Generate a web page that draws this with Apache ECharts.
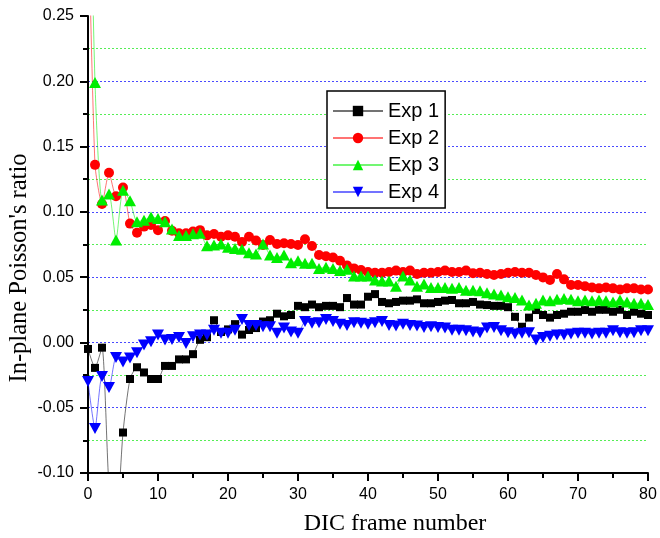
<!DOCTYPE html>
<html>
<head>
<meta charset="utf-8">
<script src="https://cdn.jsdelivr.net/npm/echarts@6/dist/echarts.min.js"></script>
<style>
body { margin: 0; background: #fff; }
#chart { width: 660px; height: 538px; }
</style>
</head>
<body>
<div id="chart"></div>
<script>
// frames 0..80
var frames = [];
for (var i = 0; i <= 80; i++) frames.push(i);

var seriesNames = ['Exp 1', 'Exp 2', 'Exp 3', 'Exp 4'];

var exp1 = [-0.005, -0.0195, -0.004, -0.11, -0.14, -0.069, -0.028, -0.019, -0.023, -0.028,
    -0.028, -0.018, -0.018, -0.013, -0.013, -0.009, 0.002, 0.004, 0.017, 0.008,
    0.010, 0.014, 0.006, 0.0095, 0.011, 0.016, 0.017, 0.022, 0.020, 0.021,
    0.028, 0.027, 0.029, 0.027, 0.028, 0.028, 0.027, 0.034, 0.029, 0.029,
    0.035, 0.037, 0.031, 0.030, 0.031, 0.032, 0.032, 0.033, 0.030, 0.030,
    0.031, 0.032, 0.0325, 0.030, 0.030, 0.031, 0.029, 0.0286, 0.028, 0.028,
    0.027, 0.0196, 0.012, 0.019, 0.0248, 0.021, 0.019, 0.021, 0.022, 0.0235,
    0.0235, 0.0248, 0.0235, 0.025, 0.025, 0.0235, 0.025, 0.021, 0.0235, 0.022,
    0.021];

var exp2 = [0.34, 0.136, 0.106, 0.130, 0.112, 0.1186, 0.091, 0.084, 0.0887, 0.090,
    0.086, 0.093, 0.0855, 0.0836, 0.0836, 0.085, 0.086, 0.082, 0.083, 0.081,
    0.082, 0.081, 0.077, 0.081, 0.078, 0.0746, 0.0785, 0.0754, 0.076, 0.0754,
    0.0746, 0.079, 0.0738, 0.067, 0.066, 0.065, 0.0626, 0.059, 0.0567, 0.0554,
    0.054, 0.0534, 0.0534, 0.054, 0.055, 0.054, 0.055, 0.0524, 0.0534, 0.0534,
    0.054, 0.055, 0.054, 0.054, 0.055, 0.053, 0.0534, 0.0524, 0.0516, 0.0524,
    0.0534, 0.054, 0.0534, 0.0534, 0.0516, 0.0498, 0.0478, 0.0524, 0.0483, 0.044,
    0.044, 0.043, 0.042, 0.0414, 0.042, 0.0414, 0.0406, 0.0414, 0.0414, 0.0406,
    0.0406];

var exp3 = [0.45, 0.199, 0.109, 0.1136, 0.0785, 0.1165, 0.1085, 0.0925, 0.0935, 0.096,
    0.095, 0.0925, 0.0868, 0.0818, 0.0818, 0.0832, 0.0836, 0.074, 0.0746, 0.0754,
    0.0728, 0.072, 0.0713, 0.0687, 0.0677, 0.0754, 0.067, 0.065, 0.067, 0.061,
    0.0626, 0.0606, 0.0606, 0.0567, 0.0575, 0.0567, 0.055, 0.056, 0.0508, 0.0508,
    0.0508, 0.0478, 0.047, 0.047, 0.043, 0.0508, 0.0478, 0.043, 0.0447, 0.042,
    0.042, 0.042, 0.0414, 0.042, 0.040, 0.040, 0.0396, 0.038, 0.037, 0.0363,
    0.035, 0.0345, 0.0325, 0.0286, 0.030, 0.0325, 0.032, 0.033, 0.0337, 0.033,
    0.032, 0.0325, 0.032, 0.0325, 0.032, 0.031, 0.0325, 0.031, 0.030, 0.030,
    0.029];

var exp4 = [-0.030, -0.066, -0.026, -0.0345, -0.0115, -0.015, -0.012, -0.008, -0.002, 0.0005,
    0.0056, 0.0018, 0.0023, 0.0038, -0.0008, 0.0043, 0.0056, 0.0056, 0.0094, 0.007,
    0.007, 0.0094, 0.0176, 0.013, 0.013, 0.012, 0.012, 0.007, 0.011, 0.008,
    0.007, 0.016, 0.0146, 0.015, 0.0176, 0.016, 0.014, 0.013, 0.015, 0.0146,
    0.014, 0.015, 0.016, 0.013, 0.0125, 0.014, 0.013, 0.0125, 0.0115, 0.012,
    0.0115, 0.011, 0.0094, 0.0094, 0.009, 0.008, 0.0074, 0.011, 0.0115, 0.009,
    0.0074, 0.0064, 0.007, 0.0074, 0.0018, 0.0038, 0.0048, 0.0056, 0.0056, 0.0064,
    0.007, 0.007, 0.0064, 0.007, 0.007, 0.009, 0.0074, 0.007, 0.0074, 0.009,
    0.009];

var xTicks = [0, 10, 20, 30, 40, 50, 60, 70, 80];
var yTicks = [-0.10, -0.05, 0.00, 0.05, 0.10, 0.15, 0.20, 0.25];

function pairs(ys) {
    var out = [];
    for (var i = 0; i < ys.length; i++) out.push([frames[i], ys[i]]);
    return out;
}

function makeSeries(name, ys, color, symbol, size, rotate) {
    return {
        name: name,
        type: 'line',
        data: pairs(ys),
        symbol: symbol,
        symbolSize: size,
        symbolRotate: rotate || 0,
        smooth: 0.2,
        clip: true,
        itemStyle: { color: color, opacity: 1 },
        lineStyle: { color: color, width: 1, opacity: 0.55 },
        animation: false
    };
}

var chart = echarts.init(document.getElementById('chart'));

var option = {
    backgroundColor: '#fff',
    animation: false,
    grid: { left: 88, right: 12, top: 16, bottom: 65, outerBoundsMode: 'none', containLabel: false },
    legend: {
        orient: 'vertical',
        left: 327,
        top: 91,
        padding: [10, 6, 6, 5],
        itemGap: 7,
        itemWidth: 50,
        itemHeight: 13,
        borderColor: '#000',
        borderWidth: 1.5,
        backgroundColor: '#fff',
        textStyle: { fontFamily: 'Liberation Sans, Arial', fontSize: 20, color: '#000' },
        data: seriesNames
    },
    xAxis: {
        type: 'value',
        min: xTicks[0],
        max: xTicks[xTicks.length - 1],
        interval: 10,
        name: 'DIC frame number',
        nameLocation: 'middle',
        nameGap: 39,
        nameMoveOverlap: false,
        nameTextStyle: { fontFamily: 'Liberation Serif, Times New Roman', fontSize: 24, color: '#000', padding: [0, 0, 0, 54] },
        axisLine: { onZero: false, lineStyle: { color: '#000', width: 2 } },
        axisTick: { length: 8, lineStyle: { width: 2 } },
        minorTick: { show: true, splitNumber: 2, length: 5, lineStyle: { color: '#000', width: 2 } },
        axisLabel: { margin: 14, fontFamily: 'Liberation Sans, Arial', fontSize: 16, color: '#000' },
        splitLine: { show: false }
    },
    yAxis: {
        type: 'value',
        min: yTicks[0],
        max: yTicks[yTicks.length - 1],
        interval: 0.05,
        name: "In-plane Poisson's ratio",
        nameLocation: 'middle',
        nameGap: 56,
        nameRotate: 90,
        nameMoveOverlap: false,
        nameTextStyle: { fontFamily: 'Liberation Serif, Times New Roman', fontSize: 24.5, color: '#000', padding: [0, 47, 0, 0] },
        axisLine: { onZero: false, lineStyle: { color: '#000', width: 2 } },
        axisTick: { length: 8, lineStyle: { width: 2 } },
        minorTick: { show: true, splitNumber: 2, length: 5, lineStyle: { color: '#000', width: 2 } },
        axisLabel: {
            margin: 14,
            fontFamily: 'Liberation Sans, Arial',
            fontSize: 16,
            color: '#000',
            formatter: function (v) { return v.toFixed(2); }
        },
        splitLine: {
            show: true,
            showMinLine: false,
            showMaxLine: false,
            lineStyle: { color: '#4a4aff', width: 1, type: [2, 2] }
        },
        minorSplitLine: {
            show: true,
            lineStyle: { color: '#55ee55', width: 1, type: [2, 2] }
        }
    },
    series: [
        makeSeries(seriesNames[0], exp1, '#000000', 'rect', 8),
        makeSeries(seriesNames[1], exp2, '#ff0000', 'circle', 10),
        makeSeries(seriesNames[2], exp3, '#00ee00', 'triangle', [12, 11]),
        makeSeries(seriesNames[3], exp4, '#0000ff', 'triangle', [12, 11], 180)
    ]
};

chart.setOption(option);
</script>
</body>
</html>
